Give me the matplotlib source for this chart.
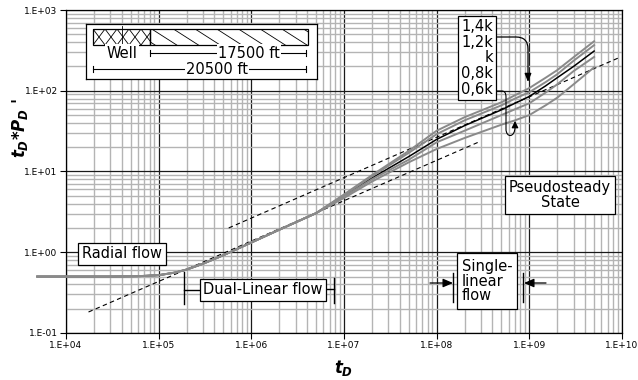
import numpy as np
import matplotlib
matplotlib.use("Agg")
import matplotlib.pyplot as plt
from matplotlib.patches import Rectangle, FancyArrowPatch
from matplotlib.path import Path
from matplotlib.lines import Line2D
from matplotlib.ticker import FuncFormatter, LogLocator

plt.rcParams['font.family'] = ['DejaVu Sans']
plt.rcParams['mathtext.fontset'] = 'custom'
plt.rcParams['mathtext.it'] = 'DejaVu Sans:italic:bold'
plt.rcParams['mathtext.rm'] = 'DejaVu Sans:bold'

# shared early-time response (radial -> dual-linear)
td_early = [4.9e3, 1e4, 3e4, 6e4, 1e5, 1.5e5, 2e5, 3e5, 5e5, 1e6, 2e6, 5e6]
tdp_early = [0.5, 0.5, 0.5, 0.505, 0.52, 0.56, 0.61, 0.72, 0.92, 1.32, 1.9, 3.05]

# late-time response for each permeability case
td_late = [1e7, 2e7, 5e7, 1e8, 2e8, 5e8, 7e8, 1e9, 1.5e9, 2e9, 3e9, 5e9]
tdp_14k = [5.2, 9.0, 18, 32, 47, 72, 88, 108, 145, 180, 260, 410]
tdp_12k = [5.1, 8.7, 17, 29, 43, 66, 80, 96, 128, 160, 235, 367]
tdp_k = [5.0, 8.3, 15.3, 25, 37, 58, 70, 85, 115, 145, 200, 310]
tdp_08k = [4.9, 8.0, 14, 23, 32, 50, 59, 70, 95, 120, 175, 262]
tdp_06k = [4.7, 7.5, 13, 19, 26, 38, 43, 50, 66, 82, 120, 195]

# half-slope reference lines
dual_td = [1.75e4, 2.9e8]
dual_tdp = [0.182, 23.4]
single_td = [5.7e5, 9.3e9]
single_tdp = [2.0, 257]

case_labels = ["1,4k", "1,2k", "k", "0,8k", "0,6k"]
x_decades = [4, 5, 6, 7, 8, 9, 10]
y_decades = [-1, 0, 1, 2, 3]

W, H = 638, 380
fig = plt.figure(figsize=(W / 100, H / 100), dpi=100)
ax = fig.add_axes([66 / W, 1 - 333 / H, (622 - 66) / W, (333 - 10) / H])


def P(x, y):
    # pixel position (from top-left) -> figure fraction
    return x / W, 1 - y / H


ax.set_xscale('log')
ax.set_yscale('log')
ax.set_xlim(1e4, 1e10)
ax.set_ylim(0.1, 1000)
ax.set_xticks([10.0 ** d for d in x_decades])
ax.set_yticks([10.0 ** d for d in y_decades])
ax.xaxis.set_minor_locator(LogLocator(base=10, subs=np.arange(2, 10), numticks=20))
ax.yaxis.set_minor_locator(LogLocator(base=10, subs=np.arange(2, 10), numticks=20))
fmt = FuncFormatter(lambda v, p: f"1.E{int(round(np.log10(v))):+03d}")
ax.xaxis.set_major_formatter(fmt)
ax.yaxis.set_major_formatter(fmt)
ax.tick_params(which='major', length=4, width=0.8, direction='out', labelsize=6.5, pad=2)
ax.tick_params(which='minor', length=0)
ax.grid(which='minor', color='#b4b4b4', lw=1.0)
ax.grid(which='major', color='#1a1a1a', lw=0.9)
ax.set_axisbelow(True)
for s in ax.spines.values():
    s.set_linewidth(0.9)

td_all = td_early + td_late
ax.plot(td_all, tdp_early + tdp_k, color='black', lw=1.1, zorder=3, clip_on=False)
for vals in (tdp_14k, tdp_12k, tdp_08k, tdp_06k):
    ax.plot(td_all, tdp_early + vals, color='#8a8a8a', lw=1.4, zorder=4, clip_on=False)

ax.plot(dual_td, dual_tdp, color='black', lw=0.8, dashes=(4, 3), zorder=3)
ax.plot(single_td, single_tdp, color='black', lw=0.8, dashes=(4, 3), zorder=3)

fig.text(*P(20, 128), r"$t_D$*$P_D$ '", rotation=90, ha='center', va='center',
         fontsize=12, fontweight='bold')
fig.text(*P(344, 368), r"$t_D$", ha='center', va='center', fontsize=12)

box = dict(boxstyle='square,pad=0.25', fc='white', ec='black', lw=0.9)
fs = 10.5
fig.text(*P(122, 254), "Radial flow", ha='center', va='center', fontsize=fs, bbox=box)
fig.text(*P(263, 290), "Dual-Linear flow", ha='center', va='center', fontsize=fs, bbox=box)
fig.text(*P(560, 195), "Pseudosteady\nState", ha='center', va='center', fontsize=fs,
         linespacing=1.0, bbox=box)
fig.text(*P(487, 281), "Single-\nlinear\nflow", ha='center', va='center', fontsize=fs,
         multialignment='left', linespacing=1.0,
         bbox=dict(boxstyle='square,pad=0.35', fc='white', ec='black', lw=0.9))
fig.text(*P(493, 58), "\n".join(case_labels), ha='right', va='center', fontsize=fs,
         multialignment='right', linespacing=1.05,
         bbox=dict(boxstyle='square,pad=0.2', fc='white', ec='black', lw=0.9))

# flow-regime bounds
for (x0, y0), (x1, y1) in [((184, 272), (184, 304)), ((184, 290), (200, 290)),
                           ((334, 278), (334, 303)), ((326, 289), (334, 289)),
                           ((453, 273), (453, 302)), ((523, 273), (523, 302))]:
    fig.add_artist(Line2D([P(x0, y0)[0], P(x1, y1)[0]], [P(x0, y0)[1], P(x1, y1)[1]],
                          color='black', lw=1.0))


def arrow(start, end, **kw):
    style = kw.pop('arrowstyle', '-|>,head_length=6,head_width=2.6')
    fig.add_artist(FancyArrowPatch(P(*start), P(*end), arrowstyle=style,
                                   color='black', lw=0.9, shrinkA=0, shrinkB=0,
                                   transform=fig.transFigure, **kw))


arrow((430, 283), (453, 283))
arrow((546, 283), (524, 283))

# label pointers
arrow((497, 37), (528, 82), arrowstyle='-|>,head_length=5,head_width=2',
      connectionstyle='angle,angleA=0,angleB=90,rad=12')
u_pts = [(497, 91), (502, 91), (506, 91), (506, 97), (506, 129),
         (506, 138), (515, 138), (515, 127), (515, 121)]
u_codes = [Path.MOVETO, Path.LINETO, Path.CURVE3, Path.CURVE3, Path.LINETO,
           Path.CURVE4, Path.CURVE4, Path.CURVE4, Path.LINETO]
u_path = Path([P(x, y) for x, y in u_pts], u_codes)
fig.add_artist(FancyArrowPatch(path=u_path, arrowstyle='-|>,head_length=4,head_width=2',
                               color='black', lw=0.8, transform=fig.transFigure))

# well schematic
ax2 = fig.add_axes([86 / W, 1 - 79 / H, (317 - 86) / W, (79 - 24) / H])
ax2.set_xlim(86, 317)
ax2.set_ylim(79, 24)
ax2.set_xticks([])
ax2.set_yticks([])
for s in ax2.spines.values():
    s.set_linewidth(0.9)

well_rect = Rectangle((93, 29), 57, 16, fc='none', ec='black', lw=0.9, zorder=3)
res_rect = Rectangle((150, 29), 158, 16, fc='none', ec='black', lw=0.9, zorder=3)
ax2.add_patch(well_rect)
ax2.add_patch(res_rect)
for x0 in np.arange(81, 152, 12):
    for xs in ([x0, x0 + 12], [x0 + 12, x0]):
        ln, = ax2.plot(xs, [29, 45], color='black', lw=0.6, zorder=2)
        ln.set_clip_path(well_rect)
for x0 in np.arange(130, 310, 21.7):
    ln, = ax2.plot([x0, x0 + 25], [29, 45], color='black', lw=0.6, zorder=2)
    ln.set_clip_path(res_rect)
ax2.plot([122, 122], [26, 45], color='black', lw=0.6)

dim_kw = dict(ha='center', va='center', fontsize=fs,
              bbox=dict(boxstyle='square,pad=0.1', fc='white', ec='none'))
ax2.plot([150, 306], [53, 53], color='black', lw=0.8)
ax2.plot([93, 306], [69, 69], color='black', lw=0.8)
for x, y in [(150, 53), (306, 53), (93, 69), (306, 69)]:
    ax2.plot([x, x], [y - 3, y + 3], color='black', lw=0.8)
ax2.text(122, 53, "Well", **dim_kw)
ax2.text(249, 53, "17500 ft", **dim_kw)
ax2.text(217, 69, "20500 ft", **dim_kw)

fig.savefig("out.png", dpi=100)
